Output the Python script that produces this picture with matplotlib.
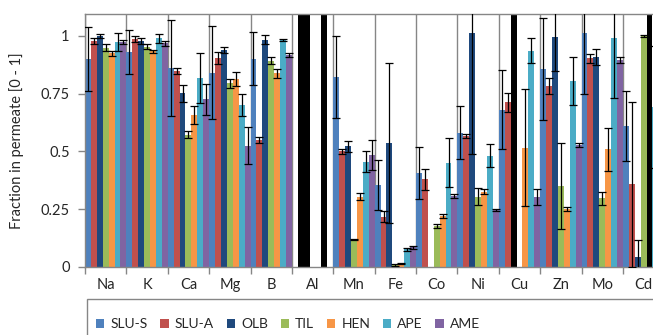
import numpy as np
import matplotlib
matplotlib.use("Agg")
import matplotlib.pyplot as plt
from matplotlib.patches import Rectangle, Patch

nan = np.nan

ELEMENTS = ["Na", "K", "Ca", "Mg", "B", "Al", "Mn", "Fe", "Co", "Ni", "Cu", "Zn", "Mo", "Cd"]
SERIES = ["SLU-S", "SLU-A", "OLB", "TIL", "HEN", "APE", "AME"]

slu_s = [0.90, 0.93, 0.86, 0.84, 0.90, nan, 0.82, 0.355, 0.405, 0.58, 0.68, 0.855, 1.01, 0.61]
slu_a = [0.975, 0.985, 0.848, 0.903, 0.549, nan, 0.50, 0.218, 0.379, 0.567, 0.712, 0.783, 0.903, 0.358]
olb   = [0.999, 0.978, 0.751, 0.939, 0.982, nan, 0.521, 0.535, nan, 1.013, nan, 0.996, 0.907, 0.043]
til   = [0.949, 0.953, 0.571, 0.794, 0.892, nan, 0.120, 0.009, 0.177, 0.304, nan, 0.350, 0.297, 0.999]
hen   = [0.924, 0.932, 0.657, 0.812, 0.838, nan, 0.304, 0.016, 0.221, 0.326, 0.516, 0.250, 0.509, nan]
ape   = [0.972, 0.989, 0.816, 0.701, 0.982, nan, 0.455, 0.076, 0.451, 0.481, 0.936, 0.804, 0.989, 0.693]
ame   = [0.972, 0.967, 0.725, 0.525, 0.917, nan, 0.484, 0.085, 0.307, 0.247, 0.301, 0.528, 0.895, nan]

slu_s_err = [0.137, 0.095, 0.207, 0.20, 0.115, nan, 0.177, 0.107, 0.112, 0.115, 0.171, 0.22, 0.26, 0.15]
slu_a_err = [0.013, 0.012, 0.014, 0.025, 0.012, nan, 0.012, 0.022, 0.045, 0.010, 0.042, 0.034, 0.02, 0.357]
olb_err   = [0.010, 0.012, 0.036, 0.012, 0.020, nan, 0.024, 0.345, nan, 0.525, nan, 0.15, 0.034, 0.074]
til_err   = [0.015, 0.010, 0.015, 0.020, 0.015, nan, 0.003, 0.003, 0.010, 0.036, nan, 0.184, 0.027, 0.005]
hen_err   = [0.012, 0.008, 0.037, 0.029, 0.020, nan, 0.015, 0.003, 0.010, 0.010, 0.254, 0.010, 0.094, nan]
ape_err   = [0.040, 0.020, 0.108, 0.047, 0.005, nan, 0.045, 0.005, 0.106, 0.050, 0.052, 0.103, 0.257, 0.263]
ame_err   = [0.010, 0.012, 0.068, 0.081, 0.008, nan, 0.066, 0.006, 0.010, 0.003, 0.035, 0.008, 0.015, nan]

# full-height black markers: (element, series)
BLACK = [("Al", "SLU-A"), ("Al", "OLB"), ("Al", "APE"), ("Cu", "OLB"), ("Cd", "HEN")]

VALUES = [slu_s, slu_a, olb, til, hen, ape, ame]
ERRORS = [slu_s_err, slu_a_err, olb_err, til_err, hen_err, ape_err, ame_err]
COLORS = ["#4F81BD", "#C0504D", "#1F497D", "#9BBB59", "#F79646", "#4BACC6", "#8064A2"]

YTICKS = [0, 0.25, 0.5, 0.75, 1]
YTICKLABELS = ["0", "0.25", "0.5", "0.75", "1"]

GRAY = "#868686"
INK = "#262626"
YTOP = 1.096

plt.rcParams.update({"font.family": ["Lato", "DejaVu Sans"], "font.size": 10})

fig = plt.figure(figsize=(6.53, 3.35), dpi=100)
ax = fig.add_axes([85 / 653, 1 - 267 / 335, 579.3 / 653, 253.5 / 335])

n = len(SERIES)
w = 1.0 / n
base = np.arange(len(ELEMENTS))
for j, (vals, errs, col) in enumerate(zip(VALUES, ERRORS, COLORS)):
    x = base + (j + 0.5) * w
    ax.bar(x, vals, w, color=col, zorder=2, linewidth=0)
    ax.errorbar(x, vals, yerr=errs, fmt="none", ecolor="black", elinewidth=0.9,
                capsize=2.6, capthick=0.9, zorder=3)

for el, s in BLACK:
    xb = ELEMENTS.index(el) + (SERIES.index(s) + 0.5) * w
    ax.bar(xb, YTOP, w, color="black", zorder=2, linewidth=0)

ax.set_xlim(0, len(ELEMENTS))
ax.set_ylim(0, YTOP)
ax.set_xticks(np.arange(len(ELEMENTS) + 1))
ax.set_xticklabels([])
ax.set_xticks(base + 0.5, minor=True)
ax.set_xticklabels(ELEMENTS, minor=True)
ax.tick_params(axis="x", which="major", direction="out", length=5, color=GRAY, width=1)
ax.tick_params(axis="x", which="minor", length=0, pad=8, labelcolor=INK, labelsize=10.5)
ax.set_yticks(YTICKS)
ax.set_yticklabels(YTICKLABELS)
ax.tick_params(axis="y", direction="out", length=5, color=GRAY, width=1, labelcolor=INK,
               labelsize=10.5, pad=6)
ax.grid(axis="x", which="major", color=GRAY, linewidth=1, zorder=0)
ax.set_axisbelow(True)
for sp in ax.spines.values():
    sp.set_color(GRAY)
    sp.set_linewidth(1)
ax.set_ylabel("Fraction in permeate [0 - 1]", color=INK, fontsize=10.5, labelpad=12)

# legend box (cut off by the figure edge, as in the source)
fig.patches.append(Rectangle((86.5 / 653, -0.2), 1.0, 0.2 + (1 - 298.5 / 335),
                             transform=fig.transFigure, facecolor="none",
                             edgecolor=GRAY, linewidth=1))
handles = [Patch(facecolor=c, edgecolor="none") for c in COLORS]
fig.legend(handles, SERIES, ncol=n, loc="center left", frameon=False,
           bbox_to_anchor=(96 / 653, 1 - 324 / 335), fontsize=10,
           handlelength=0.6, handleheight=0.6, handletextpad=0.45,
           columnspacing=0.9, labelcolor=INK, borderaxespad=0, borderpad=0)

fig.savefig("out.png", dpi=100, facecolor="white")
